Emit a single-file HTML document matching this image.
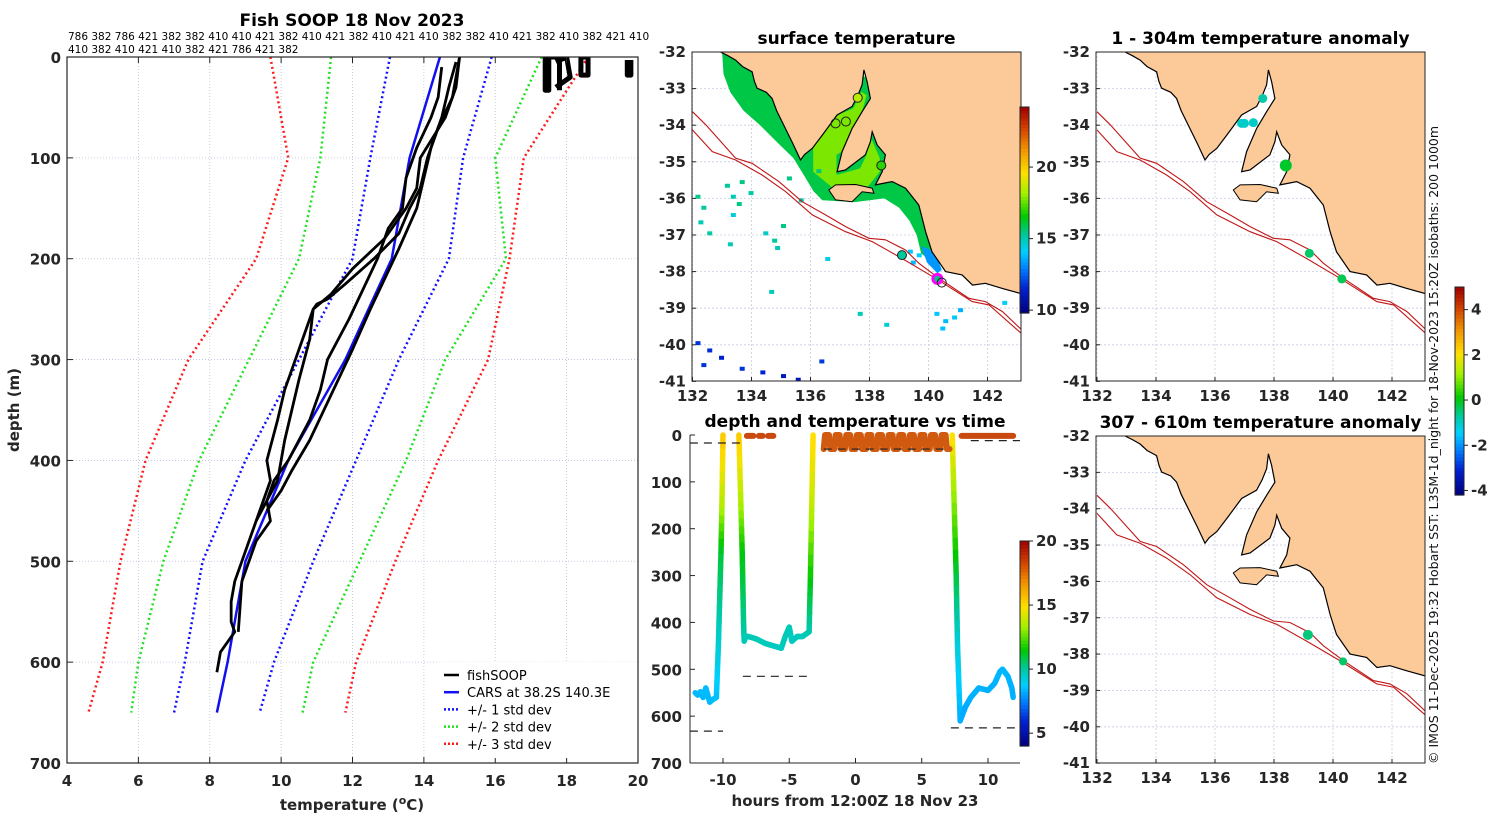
<!DOCTYPE html>
<html><head><meta charset="utf-8">
<style>
html,body{margin:0;padding:0;background:#fff;}
svg{display:block;font-family:"DejaVu Sans","Liberation Sans",sans-serif;}
.tk{font-size:15px;font-weight:bold;fill:#262626;}
.tt{font-size:17px;font-weight:bold;fill:#000;}
</style></head>
<body>
<svg id="fig" width="1500" height="820" viewBox="0 0 1500 820" xmlns="http://www.w3.org/2000/svg">
<defs>
<clipPath id="cl1"><rect x="67" y="57" width="571" height="706"/></clipPath>
<clipPath id="cm1"><rect x="692" y="52" width="329" height="329"/></clipPath>
<clipPath id="cm2"><rect x="1096" y="52" width="329" height="329"/></clipPath>
<clipPath id="cm3"><rect x="1096" y="436" width="329" height="327"/></clipPath>
<clipPath id="ct"><rect x="690" y="430" width="330" height="333"/></clipPath>
</defs>
</svg>
<script>
// ---------- Profile chart data ----------
const profDepths=[0,100,200,300,400,500,600,650];
const carsT=[14.45,13.6,13.1,11.8,10.2,9.0,8.5,8.2];
const sd1Lo=[13.05,12.5,12.0,10.5,9.0,7.8,7.3,7.0];
const sd1Hi=[15.9,15.1,14.7,13.3,12.1,10.9,9.8,9.4];
const sd2Lo=[11.4,11.1,10.5,9.1,7.7,6.7,6.0,5.8];
const sd2Hi=[17.3,16.0,16.3,14.6,13.5,12.2,10.9,10.6];
const sd3Lo=[9.7,10.2,9.3,7.4,6.2,5.5,5.0,4.6];
const sd3Hi=[18.6,16.8,16.4,15.8,14.4,13.2,12.1,11.8];
const fishD1=[0,20,40,70,100,130,150,175,200,225,240,245,250,280,300,330,360,400,420,440,450,470,500,520,540,560,570,590,610];
const fishT1=[15.0,14.9,14.8,14.4,14.1,13.9,13.6,13.3,12.6,11.8,11.3,11.0,10.9,10.6,10.4,10.1,9.9,9.6,9.7,9.5,9.4,9.2,8.9,8.7,8.6,8.6,8.7,8.3,8.2];
const fishD2=[0,30,60,100,130,150,180,210,235,250,280,320,350,380,420,440,460,480,520,570];
const fishT2=[15.0,14.9,14.6,13.9,13.8,13.5,12.9,12.0,11.4,10.9,10.8,10.5,10.3,10.1,9.9,9.6,9.7,9.3,8.9,8.8];
const fishD3=[10,40,60,90,120,150,170,200,230,260,280,300,330,360,400,420,440,460];
const fishT3=[14.5,14.4,14.2,13.8,13.5,13.4,13.0,12.7,12.3,11.9,11.6,11.3,11.1,10.8,10.2,9.8,9.6,9.3];
const fishD4=[5,30,60,90,120,150,190,220,250,290,320,350,380,410,430,450];
const fishT4=[14.9,14.7,14.5,14.2,14.0,13.8,13.3,12.9,12.5,12.0,11.6,11.2,10.8,10.3,10.0,9.6];
const depthTicks=[0,100,200,300,400,500,600,700];
const tempTicks=[4,6,8,10,12,14,16,18,20];

// ---------- Time chart data ----------
const trackT=[-12.1,-11.9,-11.7,-11.5,-11.3,-11.0,-10.8,-10.5,-10.35,-10.25,-10.15,-10.08,-10.0, null,
 -8.8,-8.65,-8.55,-8.45,-8.4,-8.3,-8.1,-7.5,-6.8,-6.2,-5.6,-5.3,-5.0,-4.8,-4.4,-4.0,-3.5,-3.4,-3.3,-3.2, null,
 7.3,7.45,7.6,7.7,7.9,8.3,8.7,9.3,10.0,10.5,10.9,11.1,11.5,11.8,11.9];
const trackD=[550,555,548,560,540,570,565,560,450,350,250,150,0, null,
 0,150,250,400,440,430,430,435,445,450,455,430,410,440,430,430,420,300,150,0, null,
 0,150,300,450,610,580,560,540,545,530,505,500,515,540,560];
const trackTemp=[8.5,8.4,8.5,8.4,8.5,8.4,8.5,8.5,9.3,10.2,11.0,13.5,15.5, null,
 15.5,13.5,11.5,10.2,9.8,9.8,9.8,9.8,9.7,9.7,9.6,9.8,9.8,9.6,9.7,9.7,9.8,11.5,13.8,15.0, null,
 15.0,13.0,11.0,9.3,8.3,8.2,8.3,8.3,8.3,8.3,8.4,8.4,8.4,8.3,8.3];
const surfT=[-2.4,-2.3,-2.0,-1.9,-1.6,-1.5,-1.2,-1.1,-0.8,-0.7,-0.4,-0.3,0.0,0.1,0.4,0.5,0.8,0.9,1.2,1.3,1.6,1.7,2.0,2.1,2.4,2.5,2.8,2.9,3.2,3.3,3.6,3.7,4.0,4.1,4.4,4.5,4.8,4.9,5.2,5.3,5.6,5.7,6.0,6.1,6.4,6.5,6.8,6.9,7.1];
const surfD=[30,0,0,30,30,0,0,30,30,0,0,30,30,0,0,30,30,0,0,30,30,0,0,30,30,0,0,30,30,0,0,30,30,0,0,30,30,0,0,30,30,0,0,30,30,0,0,30,30];
const dashT0=[-12.5,-8.5,-12.5,7.2,8.7,-2.4];
const dashT1=[-8.4,-3.3,-10.0,12.5,12.5,7.0];
const dashD=[17,515,632,625,12,30];
const hourTicks=[-10,-5,0,5,10];
const depthTicks2=[0,100,200,300,400,500,600,700];

// ---------- Map data ----------
const mainland=[[132.95,-32.0],[133.2,-32.1],[133.46,-32.22],[133.7,-32.4],[134.02,-32.54],[134.1,-32.8],[134.19,-32.99],[134.5,-33.1],[134.7,-33.27],[134.85,-33.6],[135.15,-34.09],[135.4,-34.5],[135.66,-34.95],[135.8,-34.8],[136.06,-34.63],[136.4,-34.27],[136.9,-33.72],[137.41,-33.49],[137.6,-33.2],[137.75,-32.9],[137.81,-32.49],[137.92,-32.81],[138.03,-33.27],[137.75,-33.63],[137.41,-34.09],[137.07,-34.72],[136.9,-35.27],[137.19,-35.22],[137.86,-34.81],[138.03,-34.45],[138.09,-34.18],[138.26,-34.54],[138.54,-34.81],[138.43,-35.27],[138.2,-35.63],[138.77,-35.54],[139.22,-35.72],[139.67,-36.18],[139.9,-36.91],[140.12,-37.46],[140.58,-38.0],[141.14,-38.09],[141.49,-38.37],[141.93,-38.32],[142.5,-38.46],[143.3,-38.64],[143.3,-31.9],[132.95,-31.9]];
const kangaroo=[[136.62,-35.77],[136.85,-36.04],[137.41,-36.09],[137.75,-35.82],[138.15,-35.86],[138.09,-35.72],[137.53,-35.62],[136.85,-35.63]];
const iso200=[[132,-33.63],[132.45,-33.99],[133.46,-34.9],[134.02,-35.04],[134.93,-35.54],[135.72,-36.09],[136.51,-36.45],[137.19,-36.77],[137.98,-37.09],[138.54,-37.13],[139.22,-37.41],[139.67,-37.77],[140.35,-38.18],[141.37,-38.73],[141.93,-38.82],[142.5,-39.09],[143.3,-39.7]];
const iso1000=[[132,-34.13],[132.67,-34.72],[133.46,-34.95],[134.36,-35.36],[135.15,-35.81],[136.06,-36.45],[137.19,-36.91],[138.09,-37.18],[139.1,-37.64],[140.23,-38.18],[141.48,-38.82],[142.05,-38.91],[143.3,-39.8]];
// SST shelf patches in lon/lat
const sstShelf=[[133.0,-31.95],[133.05,-32.6],[133.28,-33.1],[133.73,-33.6],[134.29,-34.0],[134.85,-34.45],[135.42,-34.9],[135.8,-35.4],[136.1,-35.8],[136.4,-36.05],[137.5,-36.1],[138.5,-36.0],[139.0,-36.25],[139.35,-36.6],[139.6,-37.0],[139.75,-37.5],[140.2,-37.8],[140.5,-37.7],[140.5,-35.0],[137.0,-31.95]];
const sstSE=[[139.75,-37.3],[139.95,-37.75],[140.3,-38.05],[140.45,-37.95],[140.2,-37.45]];
const sstGulf=[[136.09,-34.54],[136.66,-33.81],[137.45,-33.54],[137.73,-33.09],[137.9,-33.18],[137.68,-33.81],[137.45,-34.54],[136.88,-34.81],[136.88,-35.36],[137.68,-35.18],[137.9,-34.81],[138.01,-34.27],[138.35,-34.9],[138.35,-35.27],[137.9,-35.72],[136.77,-35.72],[136.09,-35.27]];
const sstSpotsLon=[133.1,133.3,133.5,133.3,133.6,133.9,132.1,132.3,132.2,134.4,134.7,135.0,134.8,135.6,135.2,136.2,136.5,139.3,139.4,139.6,140.2,140.5,140.8,140.4,141.0,132.1,132.5,132.9,133.6,134.3,135.0,135.5,132.3,136.3,137.6,142.5,132.5,133.2,134.6,138.5];
const sstSpotsLat=[-35.6,-35.9,-36.1,-36.4,-35.5,-35.8,-35.9,-36.2,-36.6,-36.9,-37.1,-36.7,-37.3,-36.0,-35.4,-35.2,-37.6,-37.4,-37.7,-37.5,-39.1,-39.3,-39.2,-39.5,-39.0,-39.9,-40.1,-40.3,-40.6,-40.7,-40.8,-40.9,-40.5,-40.4,-39.1,-38.8,-36.9,-37.2,-38.5,-39.4];
const sstSpotsVal=[15.3,15.0,15.5,14.6,15.5,15.2,15.4,15.3,15.0,14.8,15.3,15.5,15.0,15.2,15.5,15.6,14.5,14.0,13.8,14.1,14.0,13.8,14.0,13.9,13.7,11.8,11.7,11.5,11.8,11.5,11.2,11.0,11.8,11.9,15.0,14.2,15.2,15.0,14.9,14.6];
const m1Lon=[137.6,136.85,137.2,138.4,139.1,140.3,140.45];
const m1Lat=[-33.25,-33.95,-33.9,-35.1,-37.55,-38.2,-38.3];
const m1Val=[18.5,null,null,17.0,15.3,15.5,null];
const m2Lon=[137.62,136.9,137.0,137.3,138.4,139.2,140.3];
const m2Lat=[-33.27,-33.95,-33.95,-33.93,-35.1,-37.5,-38.2];
const m2Val=[-0.8,-1.0,-1.0,-1.0,-0.1,-0.4,-0.3];
const m3Lon=[139.15,140.34];
const m3Lat=[-37.47,-38.2];
const m3Val=[-0.5,-0.4];
const lonTicks=[132,134,136,138,140,142];
const latTicks=[-32,-33,-34,-35,-36,-37,-38,-39,-40,-41];

const NS='http://www.w3.org/2000/svg';
const svg=document.getElementById('fig');
function mk(tag,attrs,parent){const e=document.createElementNS(NS,tag);for(const k in attrs)e.setAttribute(k,attrs[k]);(parent||svg).appendChild(e);return e;}
function txt(x,y,s,cls,anchor,parent){const t=mk('text',{x:x,y:y,class:cls,'text-anchor':anchor||'middle'},parent);t.textContent=s;return t;}
function hex(c){return [parseInt(c.slice(1,3),16),parseInt(c.slice(3,5),16),parseInt(c.slice(5,7),16)];}
const stops=[[0,'#00007a'],[0.12,'#0020d0'],[0.22,'#0080ff'],[0.3,'#00d0ff'],[0.38,'#00c8a0'],[0.47,'#00c800'],[0.58,'#a0f000'],[0.68,'#ffe000'],[0.8,'#f09000'],[0.9,'#d04000'],[1,'#a00000']];
function cmap(f){f=Math.max(0,Math.min(1,f));for(let i=1;i<stops.length;i++){if(f<=stops[i][0]){const a=stops[i-1],b=stops[i];const u=(f-a[0])/(b[0]-a[0]);const A=hex(a[1]),B=hex(b[1]);return 'rgb('+A.map((v,j)=>Math.round(v+(B[j]-v)*u)).join(',')+')';}}return stops[stops.length-1][1];}
function colorbar(x,y0,y1,vmin,vmax,ticks,name){
  const g=mk('g',{});
  
  
  const n=60;for(let i=0;i<n;i++){const h=(y1-y0)/n;mk('rect',{x:x,y:y1-(i+1)*h,width:9,height:h+0.6,fill:cmap((i+0.5)/n)},g);}
  mk('rect',{x:x,y:y0,width:9,height:y1-y0,fill:'none',stroke:'#222','stroke-width':1},g);
  ticks.forEach(v=>{const yy=y1-(v-vmin)/(vmax-vmin)*(y1-y0);mk('line',{x1:x+9,x2:x+13,y1:yy,y2:yy,stroke:'#222'},g);txt(x+16,yy+5,String(v),'tk','start',g);});
}

// ================= Profile chart =================
const PX0=67,PX1=638,PY0=57,PY1=763;
const px=t=>PX0+(t-4)/16*(PX1-PX0);
const py=d=>PY0+d/700*(PY1-PY0);
const gP=mk('g',{});


tempTicks.forEach(t=>{if(t>4&&t<20){mk('line',{x1:px(t),x2:px(t),y1:PY0,y2:PY1,stroke:'#b8c0dc','stroke-width':0.8,'stroke-dasharray':'1,2'},gP);}});
depthTicks.forEach(d=>{if(d>0&&d<700){mk('line',{x1:PX0,x2:PX1,y1:py(d),y2:py(d),stroke:'#b8c0dc','stroke-width':0.8,'stroke-dasharray':'1,2'},gP);}});
function profLine(T,D,color,dash,w,name){
  const pts=T.map((t,i)=>px(t)+','+py(D[i])).join(' ');
  const l=mk('polyline',{points:pts,fill:'none',stroke:color,'stroke-width':w,'stroke-dasharray':dash||'none','stroke-linejoin':'round','clip-path':'url(#cl1)'},gP);
  
  
}
profLine(sd3Lo,profDepths,'#ff1a1a','2,3',2.5,'std3-low-line');
profLine(sd3Hi,profDepths,'#ff1a1a','2,3',2.5,'std3-high-line');
profLine(sd2Lo,profDepths,'#20e020','2,3',2.5,'std2-low-line');
profLine(sd2Hi,profDepths,'#20e020','2,3',2.5,'std2-high-line');
profLine(sd1Lo,profDepths,'#1010ff','2,3',2.5,'std1-low-line');
profLine(sd1Hi,profDepths,'#1010ff','2,3',2.5,'std1-high-line');
profLine(carsT,profDepths,'#1010f0','',2.5,'cars-line');
profLine(fishT1,fishD1,'#000','',2.8,'fishsoop-profile-1');
profLine(fishT2,fishD2,'#000','',2.8,'fishsoop-profile-2');
profLine(fishT3,fishD3,'#000','',2.8,'fishsoop-profile-3');
profLine(fishT4,fishD4,'#000','',2.8,'fishsoop-profile-4');
// surface fishSOOP scribbles
const surfBlobT=[[17.4,17.4,17.5,17.5,17.8,17.8],[17.7,18.0,18.1,17.7],[18.4,18.4,18.6,18.6,18.4],[19.7,19.7,19.8,19.8]];
const surfBlobD=[[0,33,33,0,0,33],[5,0,20,30],[0,18,18,0,0],[3,18,18,3]];
surfBlobT.forEach((T,i)=>profLine(T,surfBlobD[i],'#000','',5,'fishsoop-surface-'+(i+1)));
mk('rect',{x:PX0,y:PY0,width:PX1-PX0,height:PY1-PY0,fill:'none',stroke:'#262626','stroke-width':1.2},gP);
tempTicks.forEach(t=>{mk('line',{x1:px(t),x2:px(t),y1:PY1,y2:PY1-6,stroke:'#262626'},gP);mk('line',{x1:px(t),x2:px(t),y1:PY0,y2:PY0+6,stroke:'#262626'},gP);txt(px(t),786,String(t),'tk','middle',gP);});
depthTicks.forEach(d=>{mk('line',{x1:PX0,x2:PX0+6,y1:py(d),y2:py(d),stroke:'#262626'},gP);txt(61,py(d)+6,String(d),'tk','end',gP);});
let t1=txt(352,26,'Fish SOOP 18 Nov 2023','tt');
let t2=mk('text',{x:68,y:40,'font-size':'10.5','font-family':'DejaVu Sans, sans-serif'});t2.textContent='786 382 786 421 382 382 410 410 421 382 410 421 382 410 421 410 382 382 410 421 382 410 382 421 410';
let t3=mk('text',{x:68,y:53,'font-size':'10.5','font-family':'DejaVu Sans, sans-serif'});t3.textContent='410 382 410 421 410 382 421 786 421 382';
let xl=mk('text',{x:352,y:810,class:'tk','text-anchor':'middle','font-size':'17'});xl.innerHTML='temperature (<tspan dy="-6" font-size="11">o</tspan><tspan dy="6">C)</tspan>';
let yl=txt(0,0,'depth (m)','tk');yl.setAttribute('transform','translate(19,410) rotate(-90)');yl.setAttribute('font-size','17');
// legend
const legNames=['fishSOOP','CARS at 38.2S 140.3E','+/- 1 std dev','+/- 2 std dev','+/- 3 std dev'];
const legCols=['#000','#1010f0','#1010ff','#20e020','#ff1a1a'];
const legDash=['','','2,2','2,2','2,2'];
const gL=mk('g',{});


mk('rect',{x:437,y:662,width:200,height:96,fill:'#fff'},gL);
legNames.forEach((n,i)=>{const y=675+i*17.2;const ge=mk('g',{},gL);mk('line',{x1:444,x2:459,y1:y,y2:y,stroke:legCols[i],'stroke-width':2.5,'stroke-dasharray':legDash[i]||'none'},ge);const t=mk('text',{x:467,y:y+5,'font-size':'13','font-family':'DejaVu Sans, sans-serif'},ge);t.textContent=n;});

// ================= Maps =================
function mapProj(x0,y0,sx,sy){return [lon=>x0+(lon-132)*sx, lat=>y0+(-32-lat)*sy];}
function poly(arr,P){return arr.map(p=>P[0](p[0]).toFixed(1)+','+P[1](p[1]).toFixed(1)).join(' ');}
function drawMap(bx,by,bw,bh,P,clip,name,title,titleName,xlabY){
  const g=mk('g',{});
  
  
  const gc=mk('g',{'clip-path':'url(#'+clip+')'},g);
  lonTicks.forEach(l=>mk('line',{x1:P[0](l),x2:P[0](l),y1:by,y2:by+bh,stroke:'#c8cce4','stroke-width':0.8,'stroke-dasharray':'2,2'},gc));
  latTicks.forEach(l=>mk('line',{x1:bx,x2:bx+bw,y1:P[1](l),y2:P[1](l),stroke:'#c8cce4','stroke-width':0.8,'stroke-dasharray':'2,2'},gc));
  mk('rect',{x:bx,y:by,width:bw,height:bh,fill:'none',stroke:'#262626','stroke-width':1},g);
  lonTicks.forEach(l=>{mk('line',{x1:P[0](l),x2:P[0](l),y1:by+bh,y2:by+bh-4,stroke:'#262626'},g);txt(P[0](l),xlabY,String(l),'tk','middle',g);});
  latTicks.forEach(l=>{mk('line',{x1:bx,x2:bx+4,y1:P[1](l),y2:P[1](l),stroke:'#262626'},g);txt(bx-6,P[1](l)+5,String(l),'tk','end',g);});
  const tt=txt(bx+bw/2,by-8,title,'tt','middle',g);
  return gc;
}
function drawLand(gc,P){
  const l=mk('polygon',{points:poly(mainland,P),fill:'#fcc998',stroke:'#000','stroke-width':1.2},gc);
  
  
  const k=mk('polygon',{points:poly(kangaroo,P),fill:'#fcc998',stroke:'#000','stroke-width':1},gc);
  
  
  [iso200,iso1000].forEach((iso,i)=>{const e=mk('polyline',{points:poly(iso,P),fill:'none',stroke:'#c01818','stroke-width':1.1},gc);});
}
// Map 1: SST
const P1=mapProj(692.5,52,29.5,36.6);
const g1=drawMap(692,52,329,329,P1,'cm1','sst-map','surface temperature','sst-map-title',401);
const sstF=v=>(v-9.8)/(24.2-9.8);
const sh=mk('polygon',{points:poly(sstShelf,P1),fill:cmap(sstF(16.0))},g1);


mk('polygon',{points:poly(sstSE,P1),fill:cmap(sstF(13.3))},g1);
const gu=mk('polygon',{points:poly(sstGulf,P1),fill:cmap(sstF(17.8))},g1);


sstSpotsLon.forEach((lo,i)=>{const r=mk('rect',{x:P1[0](lo),y:P1[1](sstSpotsLat[i]),width:5,height:4,fill:cmap(sstF(sstSpotsVal[i]))},g1);});
drawLand(g1,P1);
m1Lon.forEach((lo,i)=>{const v=m1Val[i];const c=mk('circle',{cx:P1[0](lo),cy:P1[1](m1Lat[i]),r:4.5,fill:v==null?'none':cmap(sstF(v)),stroke:i==5?'#ff00ff':'#222','stroke-width':i==5?3:1},g1);});
colorbar(1020,107,313,9.8,24.2,[10,15,20],'sst-colorbar');
// Map 2
const P2=mapProj(1097,52,29.5,36.6);
const anF=v=>(v+4.2)/9.2;
const g2=drawMap(1096,52,329,329,P2,'cm2','anomaly-map-shallow','1 - 304m temperature anomaly','anomaly-shallow-title',401);
drawLand(g2,P2);
m2Lon.forEach((lo,i)=>{const c=mk('circle',{cx:P2[0](lo),cy:P2[1](m2Lat[i]),r:i==4?6:4.5,fill:cmap(anF(m2Val[i]))},g2);});
// Map 3
const P3=mapProj(1097,436,29.5,36.35);
const g3=drawMap(1096,436,329,327,P3,'cm3','anomaly-map-deep','307 - 610m temperature anomaly','anomaly-deep-title',783);
drawLand(g3,P3);
m3Lon.forEach((lo,i)=>{const c=mk('circle',{cx:P3[0](lo),cy:P3[1](m3Lat[i]),r:i?4:5,fill:cmap(anF(m3Val[i]))},g3);});
colorbar(1455,287,495,-4.2,5,[-4,-2,0,2,4],'anomaly-colorbar');

// ================= Time chart =================
const TX0=690,TX1=1020,TY0=435,TY1=763;
const tx=h=>855.5+h*13.25;
const ty=d=>TY0+d/700*(TY1-TY0);
const gT=mk('g',{});


const gTc=mk('g',{'clip-path':'url(#ct)'},gT);
const tF=v=>(v-4)/16;
for(let i=0;i+1<trackT.length;i++){
  if(trackT[i]==null||trackT[i+1]==null)continue;
  const n=6;
  for(let k=0;k<n;k++){
    const a=k/n,b=(k+1)/n;
    const s=mk('line',{x1:tx(trackT[i]+(trackT[i+1]-trackT[i])*a),y1:ty(trackD[i]+(trackD[i+1]-trackD[i])*a),x2:tx(trackT[i]+(trackT[i+1]-trackT[i])*b),y2:ty(trackD[i]+(trackD[i+1]-trackD[i])*b),stroke:cmap(tF(trackTemp[i]+(trackTemp[i+1]-trackTemp[i])*(a+b)/2)),'stroke-width':5.5,'stroke-linecap':'round'},gTc);
    
    
  }
}
const sp=mk('polyline',{points:surfT.map((h,i)=>tx(h)+','+ty(surfD[i])).join(' '),fill:'none',stroke:'#d05a10','stroke-width':6,'stroke-linejoin':'round','stroke-linecap':'round'},gTc);


const surfDotT0=[-8.2,-7.3,-6.6,8.0];
const surfDotT1=[-7.7,-7.0,-6.2,11.9];
surfDotT0.forEach((h,i)=>{const s=mk('line',{x1:tx(h),x2:tx(surfDotT1[i]),y1:ty(2),y2:ty(2),stroke:'#c84a10','stroke-width':6,'stroke-linecap':'round'},gTc);});
dashD.forEach((d,i)=>{const l=mk('line',{x1:tx(dashT0[i]),x2:tx(dashT1[i]),y1:ty(d),y2:ty(d),stroke:'#222','stroke-width':1.2,'stroke-dasharray':'8,6'},gTc);});
mk('line',{x1:TX0,x2:TX0,y1:TY0,y2:TY1,stroke:'#262626'},gT);
mk('line',{x1:TX0,x2:TX1,y1:TY1,y2:TY1,stroke:'#262626'},gT);
hourTicks.forEach(h=>{mk('line',{x1:tx(h),x2:tx(h),y1:TY1,y2:TY1-5,stroke:'#262626'},gT);txt(tx(h),785,String(h),'tk','middle',gT);});
depthTicks2.forEach(d=>{mk('line',{x1:TX0,x2:TX0+5,y1:ty(d),y2:ty(d),stroke:'#262626'},gT);txt(682,ty(d)+6,String(d),'tk','end',gT);});
let tt4=txt(855,427,'depth and temperature vs time','tt','middle',gT);
let xl2=txt(855,806,'hours from 12:00Z 18 Nov 23','tk','middle',gT);xl2.setAttribute('font-size','17');
colorbar(1020,541,746,4,20,[5,10,15,20],'track-colorbar');

// credit
const cr=mk('text',{transform:'translate(1438,764) rotate(-90)','font-size':'12.5','font-family':'DejaVu Sans, sans-serif',fill:'#111'});
cr.textContent='\u00a9 IMOS 11-Dec-2025 19:32 Hobart SST: L3SM-1d_night for 18-Nov-2023 15:20Z isobaths: 200  1000m';


</script>
</body></html>
